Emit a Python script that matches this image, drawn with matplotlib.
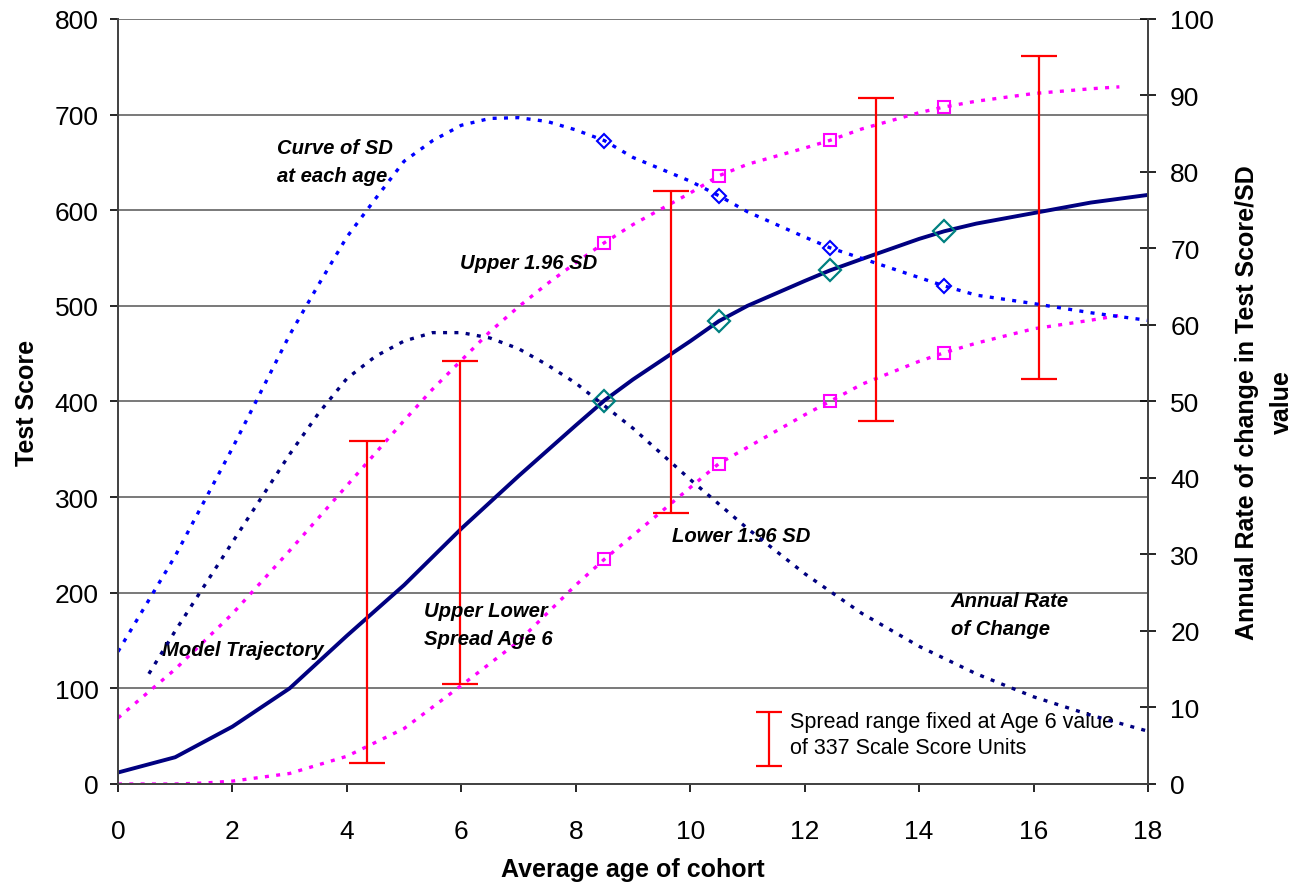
import numpy as np
import matplotlib
matplotlib.use("Agg")
import matplotlib.pyplot as plt
from matplotlib.lines import Line2D
from matplotlib.legend_handler import HandlerErrorbar

plt.rcParams["font.family"] = ["Liberation Sans", "DejaVu Sans"]

# ---------------------------------------------
# Data (test score scale on left, SD / rate on right)
# ---------------------------------------------
traj_age = [0, 1, 2, 3, 4, 5, 6, 7, 8, 8.5, 9, 10, 10.5, 11, 12, 12.44, 13, 14, 14.44, 15, 16, 17, 18]
traj_score = [12, 28, 60, 100, 155, 208, 267, 322, 375, 401, 423, 463, 484, 500, 526, 537,
              549, 570, 578, 586, 597, 608, 616]

upper_age = [0, 1, 2, 3, 4, 5, 5.5, 6, 6.5, 7, 7.5, 8, 8.5, 9, 10, 10.5, 11, 12, 12.44, 13,
             14, 14.44, 15, 16, 17, 17.5]
upper_score = [69, 120, 178, 244, 312, 380, 413, 443, 473, 499, 523, 545, 566, 585, 618, 636,
               648, 665, 673, 685, 702, 708, 714, 722, 727, 729]

lower_age = [0, 1, 1.5, 2, 3, 4, 5, 6, 7, 8, 8.5, 9, 10, 10.5, 11, 12, 12.44, 13, 14, 14.44,
             15, 16, 17, 17.5]
lower_score = [0, 0, 1, 3, 11, 29, 58, 103, 149, 208, 235, 260, 310, 335, 352, 386, 400,
               418, 442, 451, 461, 476, 485, 490]

sd_age = [0, 1, 2, 3, 3.5, 4, 4.5, 5, 5.5, 6, 6.5, 7, 7.5, 8, 8.5, 9, 10, 10.5, 11, 12, 12.44,
          13, 14, 14.44, 15, 16, 17, 18]
sd_value = [17.3, 29.8, 43.9, 58.7, 65.2, 71.5, 76.5, 81.4, 84.1, 86.1, 87.0, 87.1, 86.6,
            85.5, 84.1, 81.9, 78.8, 76.9, 74.8, 71.5, 70.1, 68.7, 66.2, 65.1, 63.9, 62.8,
            61.6, 60.6]

rate_age = [0.54, 1, 2, 3, 3.5, 4, 4.5, 5, 5.5, 6, 6.5, 7, 7.5, 8, 9, 10, 11, 12, 13, 14, 15,
            16, 17, 18]
rate_value = [14.4, 20.0, 31.6, 43.1, 48.4, 53.0, 55.9, 57.9, 59.0, 59.0, 58.3, 56.9, 54.8,
              52.4, 46.5, 39.8, 33.4, 27.5, 22.3, 18.0, 14.4, 11.4, 9.0, 6.9]

marker_ages = [8.5, 10.5, 12.44, 14.44]

bar_age = [4.36, 5.98, 9.67, 13.24, 16.1]
bar_bottom = [22, 105, 283, 380, 424]
spread_age6 = 337


def mark_idx(ages):
    return [ages.index(a) for a in marker_ages]


class SpreadKey(HandlerErrorbar):
    # taller key, set a bit lower, with narrower caps
    def create_artists(self, legend, orig_handle, xdescent, ydescent, width, height,
                       fontsize, trans):
        arts = super().create_artists(legend, orig_handle, xdescent, ydescent + 16,
                                      width, height, fontsize, trans)
        for a in arts:
            if isinstance(a, Line2D) and a.get_marker() == "_":
                a.set_markersize(19)
        return arts


# ---------------------------------------------
# Figure
# ---------------------------------------------
fig = plt.figure(figsize=(13.02, 8.87), dpi=100)
ax = fig.add_axes([0.0906, 0.115, 0.7911, 0.8625])
ax2 = ax.twinx()

dot = (0, (1.2, 2.2))

# right axis curves
ax2.plot(sd_age, sd_value, color="#0000ff", lw=2.4, ls=dot,
         marker="D", ms=7.5, mfc="none", mec="#0000ff", mew=1.5,
         markevery=mark_idx(sd_age))
ax2.plot(rate_age, rate_value, color="#000080", lw=2.4, ls=dot)

# left axis curves
ax.plot(upper_age, upper_score, color="#ff00ff", lw=2.4, ls=dot,
        marker="s", ms=8.5, mfc="none", mec="#ff00ff", mew=1.5,
        markevery=mark_idx(upper_age))
ax.plot(lower_age, lower_score, color="#ff00ff", lw=2.4, ls=dot,
        marker="s", ms=8.5, mfc="none", mec="#ff00ff", mew=1.5,
        markevery=mark_idx(lower_age))
ax.plot(traj_age, traj_score, color="#000080", lw=2.8, solid_capstyle="round")
ax.plot(marker_ages, [traj_score[i] for i in mark_idx(traj_age)], ls="none",
        marker="D", ms=11, mfc="none", mec="#008080", mew=1.6)

# spread bars of fixed size
bar_center = np.array(bar_bottom) + spread_age6 / 2
eb = ax.errorbar(bar_age, bar_center, yerr=spread_age6 / 2, fmt="none",
                 ecolor="#ff0000", elinewidth=1.6, capsize=13, capthick=1.6)

leg = ax.legend([eb], ["Spread range fixed at Age 6 value\nof 337 Scale Score Units"],
                handler_map={type(eb): SpreadKey(yerr_size=1.25)},
                loc="center left", bbox_to_anchor=(0.620, 0.063), frameon=False,
                fontsize=15.5, handlelength=1.2, handleheight=3.0, handletextpad=0.35,
                borderpad=0, borderaxespad=0)
for t in leg.get_texts():
    t.set_linespacing(1.3)

# labels on the curves
note = dict(fontsize=14.6, fontweight="bold", style="italic", color="black")
ax.text(2.78, 651, "Curve of SD\nat each age", ha="left", va="center", linespacing=1.6, **note)
ax.text(5.97, 545, "Upper 1.96 SD", ha="left", va="center", **note)
ax.text(0.77, 141, "Model Trajectory", ha="left", va="center", **note)
ax.text(5.35, 167, "Upper Lower\nSpread Age 6", ha="left", va="center", linespacing=1.6, **note)
ax.text(9.69, 260, "Lower 1.96 SD", ha="left", va="center", **note)
ax.text(14.55, 177, "Annual Rate\nof Change", ha="left", va="center", linespacing=1.6, **note)

# axes
ax.set_xlim(0, 18)
ax.set_ylim(0, 800)
ax2.set_ylim(0, 100)
ax.set_xticks(np.arange(0, 19, 2))
ax.set_yticks(np.arange(0, 801, 100))
ax2.set_yticks(np.arange(0, 101, 10))
ax.yaxis.grid(True, color="#555555", lw=1.1)
ax.set_axisbelow(True)

for a in (ax, ax2):
    a.spines["top"].set_visible(False)
    for s in ("left", "right", "bottom"):
        a.spines[s].set_color("#444444")
        a.spines[s].set_linewidth(1.3)

ax.tick_params(axis="x", direction="out", length=6, width=1.2, labelsize=19, pad=19)
ax.tick_params(axis="y", direction="out", length=6, width=1.2, labelsize=19, pad=8)
ax2.tick_params(axis="y", direction="inout", length=12, width=1.2, labelsize=19, pad=10)

ax.set_xlabel("Average age of cohort", fontsize=18, fontweight="bold", labelpad=10)
ax.set_ylabel("Test Score", fontsize=18, fontweight="bold", labelpad=11)
ax2.set_ylabel("Annual Rate of change in Test Score/SD\nvalue", fontsize=18,
               fontweight="bold", labelpad=15, linespacing=1.6)

fig.savefig("out.png", dpi=100)
